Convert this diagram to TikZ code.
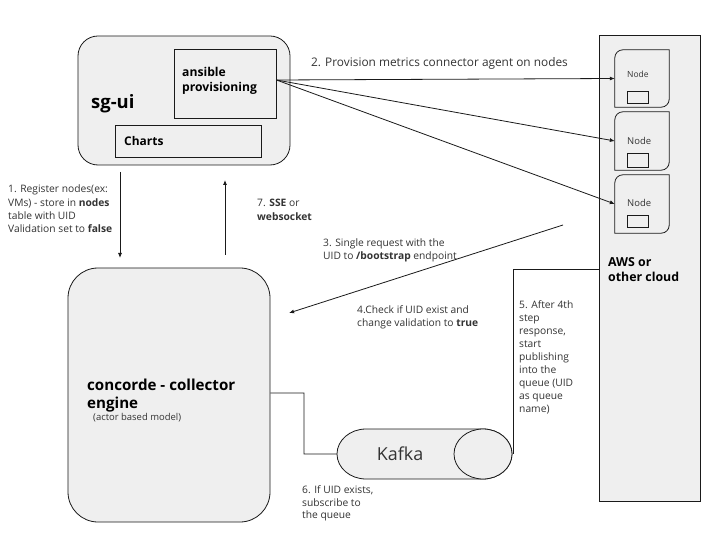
\documentclass[tikz,border=0pt]{standalone}
\usepackage{fontspec}
\setmainfont{Open Sans}
\usetikzlibrary{arrows.meta}
\definecolor{boxfill}{HTML}{EFEFEF}
\definecolor{linec}{HTML}{1A1A1A}
\definecolor{txt}{HTML}{333333}
\newcommand{\fsz}[2]{\fontsize{#1}{#2}\selectfont}
\newcommand{\nodeoutline}[1]{%
  \draw[boxline] (#1.north east) -- ([xshift=8bp]#1.north west)
    .. controls ([xshift=3.6bp]#1.north west) and ([yshift=-3.6bp]#1.north west) .. ([yshift=-8bp]#1.north west)
    -- (#1.south west) -- ([xshift=-8bp]#1.south east)
    .. controls ([xshift=-3.6bp]#1.south east) and ([yshift=3.6bp]#1.south east) .. ([yshift=8bp]#1.south east)
    -- cycle;}
\tikzset{
  boxline/.style={draw=linec, fill=boxfill, line width=0.8bp},
  box/.style={boxline, inner sep=0pt},
  ghost/.style={inner sep=0pt},
  lbl/.style={anchor=north west, inner sep=0pt, align=left, text=txt, font=\fsz{10.3}{13.5}},
  head/.style={inner sep=0pt, text=black},
  arr/.style={draw=linec, line width=0.8bp, -{Latex[length=5bp,width=4bp]}},
  plain/.style={draw=linec, line width=0.8bp}
}
\begin{document}
\begin{tikzpicture}[x=1bp,y=-1bp]
\useasboundingbox[fill=white] (0,0) rectangle (720,540);

% sg-ui
\node[box, rounded corners=20bp, minimum width=212bp, minimum height=129bp] (sgui) at (184,100.5) {};
\node[box, minimum width=102bp, minimum height=69bp] (ansible) at (225,83.5) {};
\node[box, minimum width=146bp, minimum height=32bp] (charts) at (188,141) {};
\node[head, anchor=base west, font=\fsz{18.5}{21}\bfseries] (sguitext) at (91,108.5) {sg-ui};
\node[head, anchor=north west, align=left, font=\fsz{12.2}{15}\bfseries] (ansibletext) at (182,65.4) {\strut ansible\\provisioning};
\node[head, anchor=base west, font=\fsz{12}{15}\bfseries] (chartstext) at (124,145.3) {Charts};

% AWS
\node[box, minimum width=101bp, minimum height=466bp] (aws) at (649.5,268) {};
\node[head, anchor=north west, align=left, font=\fsz{12.4}{15}\bfseries] (awstext) at (608,255.8) {\strut AWS or\\other cloud};

% cloud nodes
\node[ghost, minimum width=54bp, minimum height=57bp] (n1) at (642,78.5) {};
\node[ghost, minimum width=54bp, minimum height=58bp] (n2) at (642,141) {};
\node[ghost, minimum width=54bp, minimum height=58bp] (n3) at (642,204) {};
\nodeoutline{n1}
\nodeoutline{n2}
\nodeoutline{n3}
\node[head, anchor=base west, text=txt, font=\fsz{8.5}{11}] (n1text) at (627,77.2) {Node};
\node[head, anchor=base west, text=txt, font=\fsz{9.5}{12}] (n2text) at (627,144.6) {Node};
\node[head, anchor=base west, text=txt, font=\fsz{9.5}{12}] (n3text) at (627,206.6) {Node};
\node[box, minimum width=21bp, minimum height=12bp] (n1r) at (637.5,97) {};
\node[box, minimum width=21bp, minimum height=14bp] (n2r) at (637.5,160) {};
\node[box, minimum width=21bp, minimum height=12bp] (n3r) at (637.5,221) {};

% concorde
\node[box, rounded corners=30bp, minimum width=202bp, minimum height=254bp] (concorde) at (169,395) {};
\node[head, anchor=north west, align=left, font=\fsz{15.2}{18}\bfseries] (concordetext) at (87,377.8) {\strut concorde - collector\\engine};
\node[head, anchor=base west, text=txt, font=\fsz{9.5}{12}] (actortext) at (93,420.3) {(actor based model)};

% Kafka
\node[ghost, minimum width=175bp, minimum height=50bp] (kafka) at (424.5,454) {};
\draw[boxline] (366,429) -- (483,429)
  .. controls (499,429) and (512,440.2) .. (512,454)
  .. controls (512,467.8) and (499,479) .. (483,479)
  -- (366,479)
  .. controls (350,479) and (337,467.8) .. (337,454)
  .. controls (337,440.2) and (350,429) .. (366,429) -- cycle;
\draw[boxline] (483,454) ellipse [x radius=29, y radius=25];
\node[head, text=txt, font=\fsz{18}{20}] (kafkatext) at (400,454) {Kafka};

% connectors
\draw[arr] ([yshift=3.5bp]ansible.east) -- (n1.west);
\draw[arr] ([yshift=3.5bp]ansible.east) -- (n2.west);
\draw[arr] ([yshift=3.5bp]ansible.east) -- (n3.west);

\coordinate (a1s) at (120,172);
\coordinate (a1e) at (120,258);
\draw[arr] (a1s) -- (a1e);
\coordinate (a7s) at (225,255);
\coordinate (a7e) at (225,180);
\draw[arr] (a7s) -- (a7e);
\coordinate (a3s) at (563,225);
\coordinate (a3e) at (289,313);
\draw[arr] (a3s) -- (a3e);

\draw[plain] ([yshift=-1bp]aws.west) -| ([xshift=1bp]kafka.east);
\coordinate (c6) at (304,393);
\draw[plain] ([yshift=2bp]concorde.east) -- (c6) |- (kafka.west);

% labels
\node[lbl] (l1) at (8,183) {\strut 1. Register nodes(ex:\\VMs) - store in \textbf{nodes}\\table with UID\\Validation set to \textbf{false}};
\node[lbl, font=\fsz{10.3}{14}] (l7) at (257,196.8) {\strut 7. \textbf{SSE} or\\\textbf{websocket}};
\node[head, anchor=base west, text=txt, font=\fsz{11.9}{13}] (l2) at (311,66.2) {2. Provision metrics connector agent on nodes};
\node[lbl, font=\fsz{10.3}{12.5}] (l3) at (323,237.9) {\strut 3. Single request with the\\UID to \textbf{/bootstrap} endpoint};
\node[lbl, font=\fsz{10.3}{12.5}] (l4) at (357,304.9) {\strut 4.Check if UID exist and\\change validation to \textbf{true}};
\node[lbl, font=\fsz{10.3}{13}] (l5) at (519,299.5) {\strut 5. After 4th\\step\\response,\\start\\publishing\\into the\\queue (UID\\as queue\\name)};
\node[lbl, font=\fsz{10.3}{12.5}] (l6) at (302,484.9) {\strut 6. If UID exists,\\subscribe to\\the queue};
\end{tikzpicture}
\end{document}
